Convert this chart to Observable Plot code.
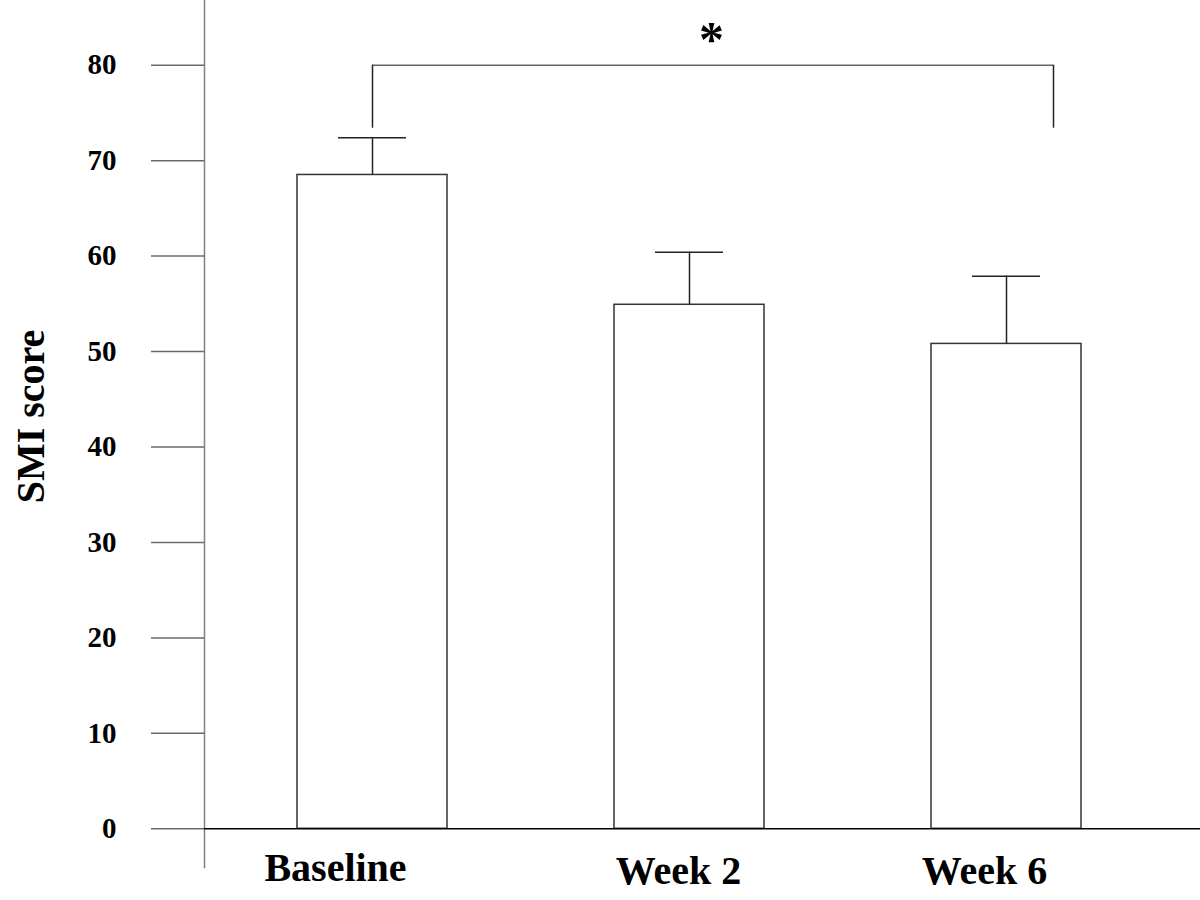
<!DOCTYPE html>
<html>
<head>
<meta charset="utf-8">
<script src="https://cdn.jsdelivr.net/npm/d3@7"></script>
<script src="https://cdn.jsdelivr.net/npm/@observablehq/plot@0.6"></script>
<style>
  html, body { margin: 0; padding: 0; background: #fff; }
  svg { display: block; overflow: visible; }
</style>
</head>
<body>
<div id="chart"></div>
<script>
// ---- data ----
const categories = ["Baseline", "Week 2", "Week 6"];
const means = [68.5, 54.9, 50.8];
const errorTops = [72.4, 60.4, 57.9];
const yTicks = [0, 10, 20, 30, 40, 50, 60, 70, 80];
const yLabel = "SMI score";
const sigPair = ["Baseline", "Week 6"];
const sigLevel = 80;
const sigLeg = 73.4;
const sigMark = "*";

const rows = categories.map((c, i) => ({cat: c, mean: means[i], top: errorTops[i]}));

const FONT = "'Liberation Serif', 'Times New Roman', serif";
const labelDx = {"Baseline": -37, "Week 2": -11, "Week 6": -22};
const labelDy = {"Baseline": 13, "Week 2": 16, "Week 6": 16};
const halfBand = 75;
const rightLegShift = 47;

const chart = Plot.plot({
  width: 1200,
  height: 900,
  marginLeft: 204,
  marginRight: 0,
  marginTop: 0,
  marginBottom: 33,
  style: {fontFamily: FONT, fontWeight: "bold", background: "white", color: "black"},
  x: {type: "band", domain: categories, range: [205, 1173], paddingInner: 0.5268, paddingOuter: 0.29, axis: null},
  y: {domain: [0, 80], range: [828.3, 64.7], axis: null},
  marks: [
    Plot.frame({anchor: "left", stroke: "#808080", strokeWidth: 1.5}),
    Plot.axisY({ticks: yTicks, tickSize: 53, tickPadding: 35, fontSize: 29, fontWeight: "bold", stroke: "#6a6a6a", strokeWidth: 1.5, fill: "black", label: null}),
    Plot.barY(rows, {x: "cat", y: "mean", fill: "white", stroke: "#333", strokeWidth: 1.5}),
    Plot.ruleX(rows, {x: "cat", y1: "mean", y2: "top", stroke: "#222", strokeWidth: 1.5}),
    Plot.tickY(rows, {x: "cat", y: "top", insetLeft: 41, insetRight: 41, stroke: "#222", strokeWidth: 1.5}),
    // significance bracket
    Plot.ruleY([sigLevel], {x1: () => sigPair[0], x2: () => sigPair[1], insetLeft: halfBand, insetRight: halfBand - rightLegShift, stroke: "#666", strokeWidth: 1.5}),
    Plot.ruleX([sigPair[0]], {x: d => d, y1: sigLeg, y2: sigLevel, stroke: "#222", strokeWidth: 1.5}),
    Plot.ruleX([sigPair[1]], {x: d => d, y1: sigLeg, y2: sigLevel, dx: rightLegShift, stroke: "#222", strokeWidth: 1.5}),
    Plot.text([sigMark], {x: () => "Week 2", y: () => sigLevel, text: d => d, dx: 22, dy: -9, lineAnchor: "bottom", fontSize: 50, fontWeight: "bold", fill: "black"}),
    Plot.ruleY([0], {stroke: "black", strokeWidth: 1.5}),
    ...categories.map(c => Plot.text([c], {
      x: d => d, text: d => d, frameAnchor: "bottom", lineAnchor: "bottom",
      dx: labelDx[c], dy: labelDy[c], fontSize: 40, fontWeight: "bold", fill: "black"
    })),
    Plot.text([yLabel], {text: d => d, frameAnchor: "left", rotate: -90, dx: -173, dy: -17.5, fontSize: 40, fontWeight: "bold", fill: "black", textAnchor: "middle", lineAnchor: "middle"})
  ]
});
document.getElementById("chart").appendChild(chart);
</script>
</body>
</html>
